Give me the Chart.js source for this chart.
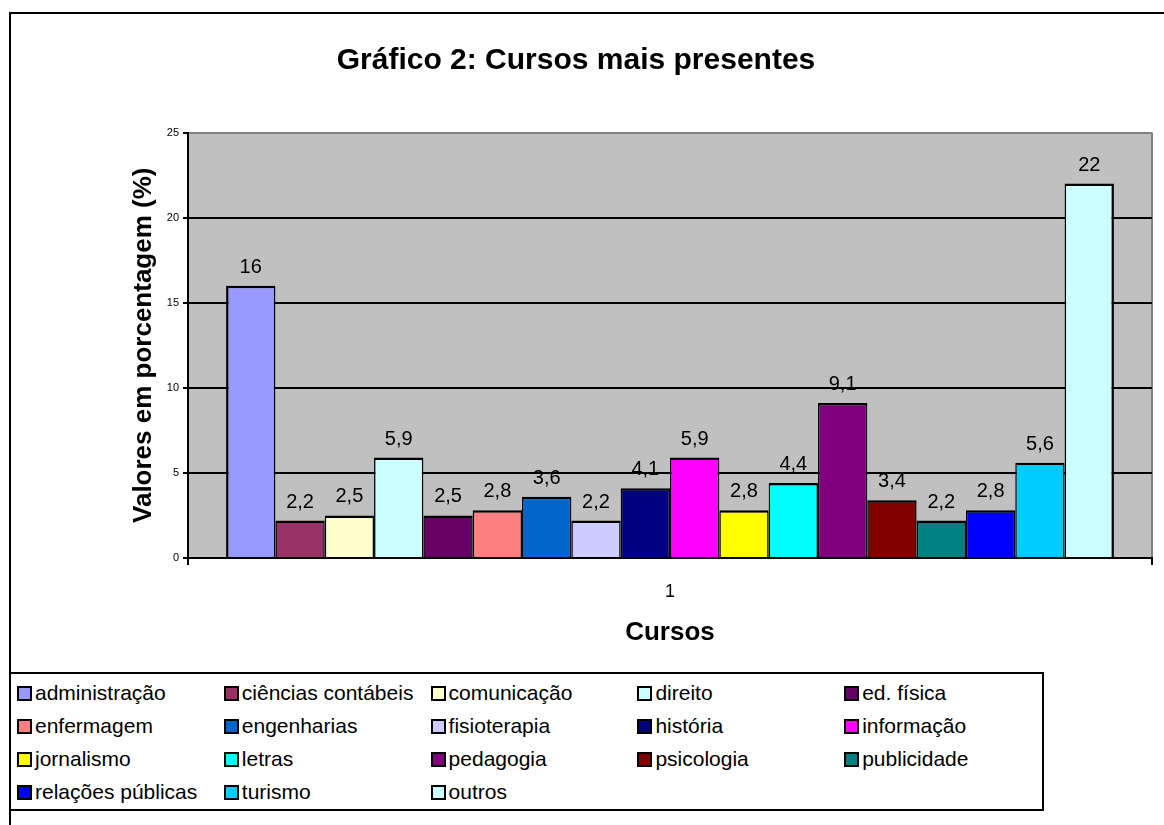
<!DOCTYPE html>
<html>
<head>
<meta charset="utf-8">
<script src="https://cdn.jsdelivr.net/npm/chart.js@4"></script>
<style>
  body { margin: 0; background: #fff; overflow: hidden; width: 1164px; height: 825px; position: relative; font-family: "Liberation Sans", Arial, sans-serif; }
  #frame { position: absolute; left: 9px; top: 12px; width: 1300px; height: 1000px; border: 2px solid #000; }
  #chart { position: absolute; left: 0; top: 0; }
  #legend { position: absolute; left: 9px; top: 672px; width: 1031px; height: 135px; border: 2px solid #000; }
  .item { position: absolute; display: flex; align-items: center; font-size: 21px; color: #000; white-space: nowrap; height: 24px; }
  .box { width: 11px; height: 11px; border: 2px solid #000; margin-right: 3px; }
</style>
</head>
<body>
<div id="frame"></div>
<canvas id="chart" width="1164" height="672"></canvas>
<div id="legend"></div>
<script>
// =====================
// DATA
// =====================
const categories = ["1"];
const courses = [
  "administração", "ciências contábeis", "comunicação", "direito", "ed. física",
  "enfermagem", "engenharias", "fisioterapia", "história", "informação",
  "jornalismo", "letras", "pedagogia", "psicologia", "publicidade",
  "relações públicas", "turismo", "outros"
];
const values = [16, 2.2, 2.5, 5.9, 2.5, 2.8, 3.6, 2.2, 4.1, 5.9, 2.8, 4.4, 9.1, 3.4, 2.2, 2.8, 5.6, 22];
const colors = [
  "#9999FF", "#993366", "#FFFFCC", "#CCFFFF", "#660066",
  "#FF8080", "#0066CC", "#CCCCFF", "#000080", "#FF00FF",
  "#FFFF00", "#00FFFF", "#800080", "#800000", "#008080",
  "#0000FF", "#00CCFF", "#CCFFFF"
];
const yTicks = [0, 5, 10, 15, 20, 25];

const FONT = "'Liberation Sans', Arial, sans-serif";

function fmt(v) {
  return String(v).replace(".", ",");
}

// =====================
// PLUGINS
// =====================
const plotBackground = {
  id: "plotBackground",
  beforeDraw(chart) {
    const { ctx, chartArea: a } = chart;
    ctx.save();
    ctx.fillStyle = "#C0C0C0";
    ctx.fillRect(a.left, a.top, a.right - a.left, a.bottom - a.top);
    ctx.restore();
  }
};

const valueLabels = {
  id: "valueLabels",
  afterDatasetsDraw(chart) {
    const { ctx } = chart;
    ctx.save();
    ctx.font = "20px " + FONT;
    ctx.fillStyle = "#000";
    ctx.textAlign = "center";
    ctx.textBaseline = "alphabetic";
    chart.data.datasets.forEach((ds, i) => {
      const bar = chart.getDatasetMeta(i).data[0];
      ctx.fillText(fmt(ds.data[0]), bar.x, bar.y - 13);
    });
    ctx.restore();
  }
};

// =====================
// CHART
// =====================
const last = courses.length - 1;
const datasets = courses.map((name, i) => ({
  label: name,
  data: [values[i]],
  backgroundColor: colors[i],
  borderColor: "#000",
  borderWidth: { top: 2.5, bottom: 0, left: i === 0 ? 2.5 : 1.5, right: i === last ? 2.5 : 1.5 },
  borderSkipped: false,
  categoryPercentage: 0.921,
  barPercentage: 1
}));

const chart = new Chart(document.getElementById("chart"), {
  type: "bar",
  data: { labels: categories, datasets },
  options: {
    responsive: false,
    animation: false,
    layout: { padding: { left: 0, right: 12, top: 0, bottom: 0 } },
    plugins: {
      legend: { display: false },
      tooltip: { enabled: false },
      title: {
        display: true,
        text: "Gráfico 2: Cursos mais presentes",
        color: "#000",
        font: { family: FONT, size: 30, weight: "bold", lineHeight: 1.2 },
        padding: { top: 43, bottom: 53.5 }
      }
    },
    scales: {
      x: {
        offset: true,
        afterFit(scale) { scale.height = 114; },
        grid: {
          offset: true,
          lineWidth: 2,
          tickLength: 7,
          color: ctx => (ctx.index === 0 ? "#000" : "#808080"),
          tickColor: "#000"
        },
        border: { color: "#000", width: 2 },
        ticks: { color: "#000", font: { family: FONT, size: 18 }, padding: 16 },
        title: {
          display: true,
          text: "Cursos",
          color: "#000",
          font: { family: FONT, size: 26, weight: "bold", lineHeight: 1.2 },
          padding: { top: 0, bottom: 24 }
        }
      },
      y: {
        min: 0,
        max: 25,
        afterFit(scale) { scale.width = 188; },
        afterBuildTicks(scale) { scale.ticks = yTicks.map(v => ({ value: v })); },
        grid: {
          lineWidth: 2,
          tickLength: 5,
          color: ctx => (ctx.tick && ctx.tick.value === 25 ? "#808080" : "#000"),
          tickColor: "#000"
        },
        border: { color: "#000", width: 2 },
        ticks: { color: "#000", font: { family: FONT, size: 11 }, padding: 4 },
        title: {
          display: true,
          text: "Valores em porcentagem (%)",
          color: "#000",
          font: { family: FONT, size: 26, weight: "bold", lineHeight: 1.2 },
          padding: { top: 128, bottom: 0 }
        }
      }
    }
  },
  plugins: [plotBackground, valueLabels]
});

// =====================
// LEGEND (html, 5 columns)
// =====================
const legend = document.getElementById("legend");
chart.data.datasets.forEach((ds, i) => {
  const col = i % 5;
  const row = Math.floor(i / 5);
  const item = document.createElement("div");
  item.className = "item";
  item.style.left = (6 + col * 206.8) + "px";
  item.style.top = (7 + row * 33) + "px";
  item.innerHTML = `<span class="box" style="background:${ds.backgroundColor}"></span>${ds.label}`;
  legend.appendChild(item);
});
</script>
</body>
</html>
